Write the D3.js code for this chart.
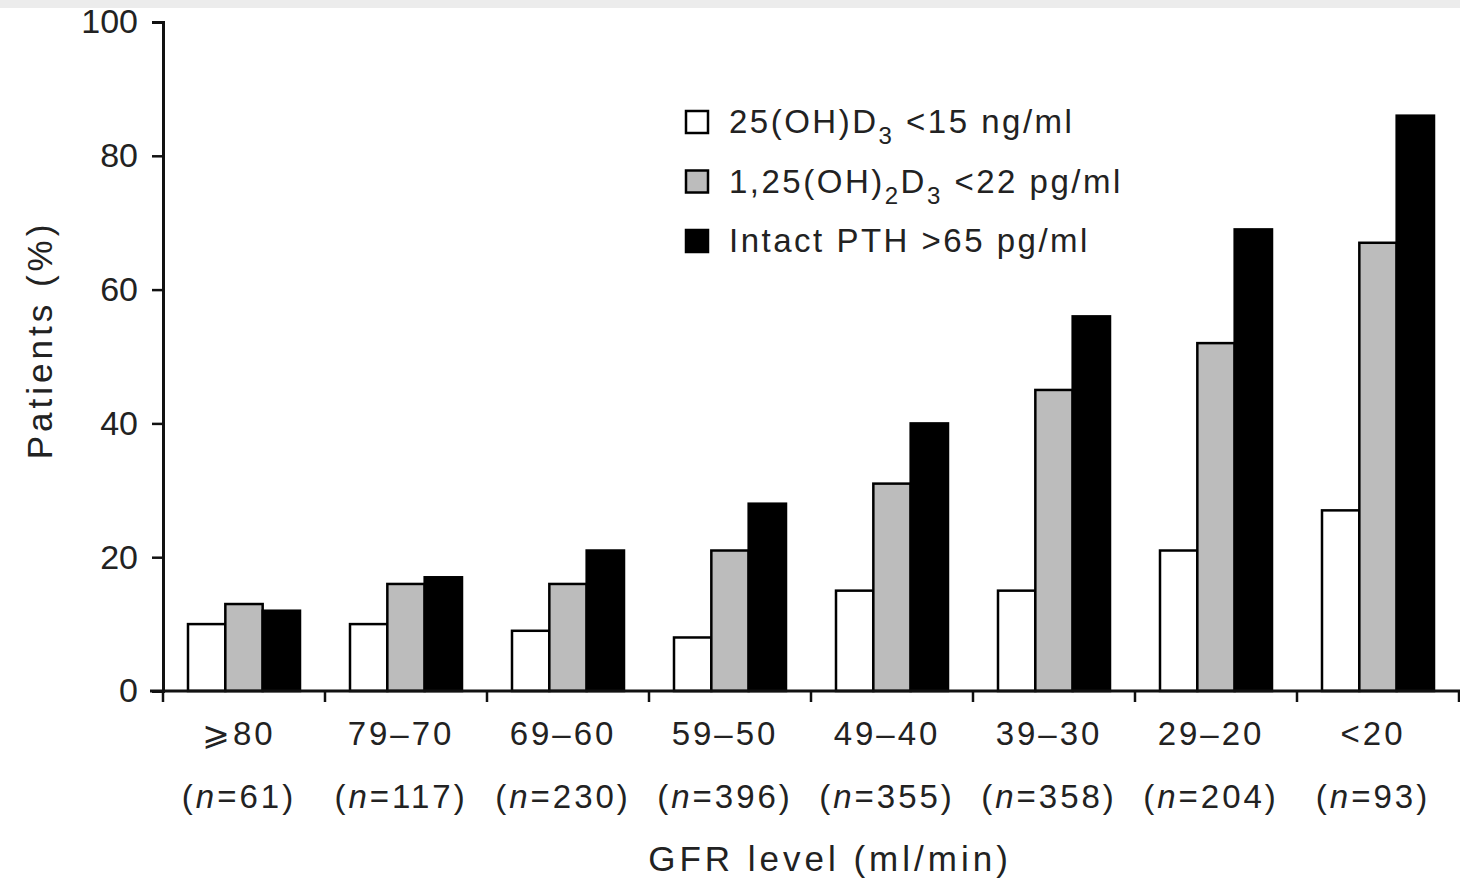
<!DOCTYPE html>
<html>
<head>
<meta charset="utf-8">
<script src="https://cdn.jsdelivr.net/npm/d3@7"></script>
<style>
  body { margin: 0; background: #fff; }
  svg { display: block; }
  text { font-family: "Liberation Sans", Arial, "DejaVu Sans", sans-serif; fill: #222; }
</style>
</head>
<body>
<div id="chart"></div>
<script>

// Data
const categories = ["⩾80", "79–70", "69–60", "59–50", "49–40", "39–30", "29–20", "<20"]
const counts = [61, 117, 230, 396, 355, 358, 204, 93]
const series = ["vitD25", "vitD125", "pth"]
const vitD25 = [10, 10, 9, 8, 15, 15, 21, 27]
const vitD125 = [13, 16, 16, 21, 31, 45, 52, 67]
const pth = [12, 17, 21, 28, 40, 56, 69, 86]
const yTicks = [0, 20, 40, 60, 80, 100]

const values = {vitD25, vitD125, pth}
const fills = {vitD25: "#ffffff", vitD125: "#bcbcbc", pth: "#000000"}

// Legend labels as [text, isSubscript] pieces
const legendLabels = {
    vitD25: [["25(OH)D", false], ["3", true], [" <15 ng/ml", false]],
    vitD125: [["1,25(OH)", false], ["2", true], ["D", false], ["3", true], [" <22 pg/ml", false]],
    pth: [["Intact PTH >65 pg/ml", false]]
}

let outerWidth = 1460
let outerHeight = 882
let margin = {top: 22, bottom: 191, left: 163, right: 1}

const svg = d3.select("#chart")
    .append("svg")
    .attr("width", outerWidth)
    .attr("height", outerHeight)

// light band across the top
svg.append("rect")
    .attr("x", 0).attr("y", 0)
    .attr("width", outerWidth).attr("height", 8)
    .attr("fill", "#ececec")

const y = d3.scaleLinear()
    .domain([0, 100])
    .range([outerHeight - margin.bottom, margin.top])

const xg = d3.scaleBand()
    .domain(categories)
    .range([margin.left, outerWidth - margin.right])

const x1 = d3.scaleBand()
    .domain(series)
    .range([25, xg.bandwidth() - 25])

// Bars
const groups = svg.selectAll("g.group")
    .data(categories)
    .enter()
    .append("g")
    .attr("class", "group")
    .attr("transform", d => `translate(${xg(d)},0)`)

groups.selectAll("rect")
    .data((d, i) => series.map(s => ({key: s, value: values[s][i]})))
    .enter()
    .append("rect")
    .attr("x", d => x1(d.key))
    .attr("y", d => y(d.value))
    .attr("width", x1.bandwidth())
    .attr("height", d => y(0) - y(d.value))
    .attr("fill", d => fills[d.key])
    .attr("stroke", "#000")
    .attr("stroke-width", 2.5)

// Y axis
const yAxis = svg.append("g")
    .attr("transform", `translate(${margin.left},0)`)
    .call(d3.axisLeft(y).tickValues(yTicks).tickSize(11).tickPadding(14))

yAxis.select(".domain").attr("stroke", "#111").attr("stroke-width", 3)
yAxis.selectAll(".tick line").attr("stroke", "#111").attr("stroke-width", 2.5)
yAxis.selectAll(".tick text")
    .attr("font-size", 34)
    .attr("fill", "#222")
    .style("font-family", "'Liberation Sans', Arial, sans-serif")

// X axis line and group boundary ticks
const base = y(0)
svg.append("line")
    .attr("x1", margin.left - 13).attr("x2", outerWidth)
    .attr("y1", base).attr("y2", base)
    .attr("stroke", "#111").attr("stroke-width", 3)

const bounds = categories.map(c => xg(c)).concat([xg(categories[categories.length - 1]) + xg.bandwidth()])
svg.selectAll("line.xtick")
    .data(bounds)
    .enter()
    .append("line")
    .attr("class", "xtick")
    .attr("x1", d => d).attr("x2", d => d)
    .attr("y1", base).attr("y2", base + 11)
    .attr("stroke", "#111").attr("stroke-width", 2.5)

// X labels
const xl = svg.selectAll("g.xlabel")
    .data(categories)
    .enter()
    .append("g")
    .attr("class", "xlabel")
    .attr("transform", d => `translate(${xg(d) + xg.bandwidth() / 2 - 5},0)`)

xl.append("text")
    .attr("y", base + 54)
    .attr("text-anchor", "middle")
    .attr("font-size", 33)
    .attr("letter-spacing", 3)
    .text(d => d)

const nl = xl.append("text")
    .attr("y", base + 117)
    .attr("text-anchor", "middle")
    .attr("font-size", 33)
    .attr("letter-spacing", 3)

nl.append("tspan").text("(")
nl.append("tspan").attr("font-style", "italic").text("n")
nl.append("tspan").text((d, i) => "=" + counts[i] + ")")

// Axis titles
svg.append("text")
    .attr("x", 830)
    .attr("y", base + 180)
    .attr("text-anchor", "middle")
    .attr("font-size", 35)
    .attr("letter-spacing", 4)
    .text("GFR level (ml/min)")

svg.append("text")
    .attr("transform", `translate(52, 340) rotate(-90)`)
    .attr("text-anchor", "middle")
    .attr("font-size", 35)
    .attr("letter-spacing", 4)
    .text("Patients (%)")

// Legend
const legendY = d3.scalePoint()
    .domain(series)
    .range([121, 240])

const legend = svg.selectAll("g.legend")
    .data(series)
    .enter()
    .append("g")
    .attr("class", "legend")
    .attr("transform", d => `translate(686,${legendY(d)})`)

legend.append("rect")
    .attr("x", 0).attr("y", -10)
    .attr("width", 22).attr("height", 22)
    .attr("fill", d => fills[d])
    .attr("stroke", "#000")
    .attr("stroke-width", 2.5)

const lt = legend.append("text")
    .attr("x", 43)
    .attr("y", 12)
    .attr("font-size", 33)
    .attr("letter-spacing", 2.5)

lt.each(function(d) {
    const t = d3.select(this)
    let shifted = false
    for (const [s, sub] of legendLabels[d]) {
        const sp = t.append("tspan").text(s)
        if (sub) {
            sp.attr("font-size", 24).attr("dy", shifted ? 0 : 11)
            shifted = true
        } else if (shifted) {
            sp.attr("dy", -11)
            shifted = false
        }
    }
})

</script>
</body>
</html>
